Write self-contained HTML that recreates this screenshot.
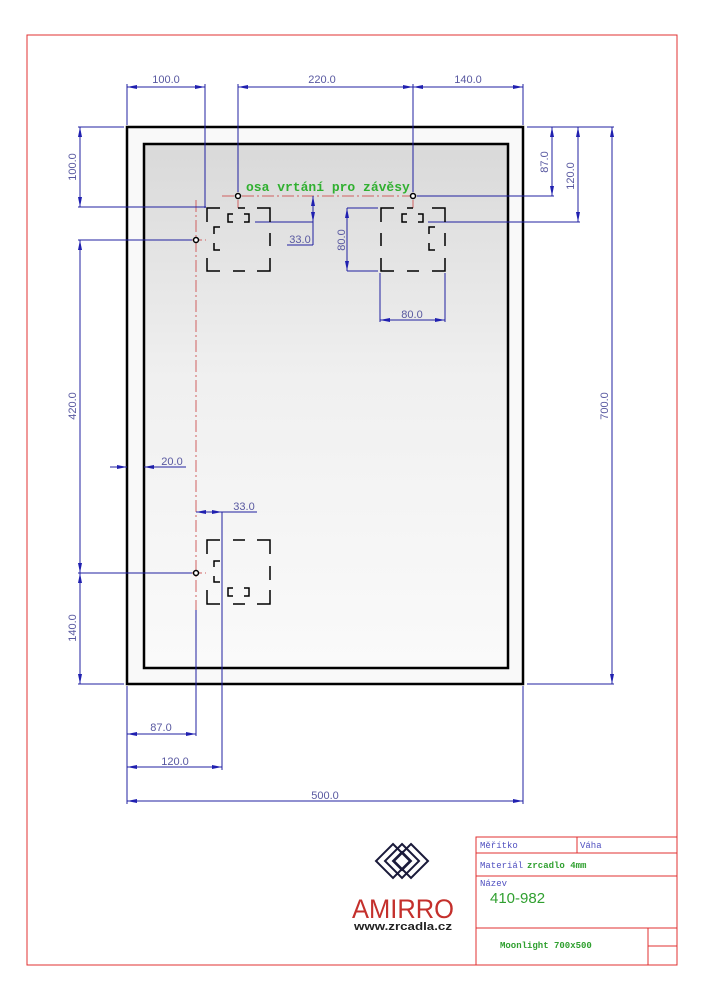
<!DOCTYPE html>
<html><head><meta charset="utf-8"><style>
html,body{margin:0;padding:0;background:#fff;}
svg{display:block;}
.d{font-family:"Liberation Sans",sans-serif;font-size:11px;fill:#5858a0;}
.t{font-family:"Liberation Mono",monospace;fill:#c03030;}
</style></head><body>
<svg width="705" height="1000" viewBox="0 0 705 1000" xmlns="http://www.w3.org/2000/svg">
<defs>
<linearGradient id="g" x1="0" y1="0" x2="0" y2="1">
<stop offset="0" stop-color="#d9d9d9"/><stop offset="0.45" stop-color="#f0f0f0"/><stop offset="1" stop-color="#fafafa"/>
</linearGradient>
<marker id="a" viewBox="0 0 10 6" refX="10" refY="3" markerWidth="10" markerHeight="6" orient="auto-start-reverse" markerUnits="userSpaceOnUse"><path d="M0,1 L10,3 L0,5z" fill="#2020b0"/></marker>
</defs>
<rect x="27" y="35" width="650" height="930" fill="none" stroke="#e03030" stroke-width="1"/>
<!-- mirror -->
<rect x="127" y="127" width="396" height="557" fill="#f9f9f9" stroke="#000" stroke-width="2.5"/>
<rect x="144" y="144" width="364" height="524" fill="url(#g)" stroke="#000" stroke-width="2.5"/>
<!-- center lines -->
<g stroke="#d06060" stroke-width="1" stroke-dasharray="12,3,2,3" fill="none">
<line x1="222" y1="196" x2="450" y2="196"/>
<line x1="196" y1="200" x2="196" y2="610"/>
<line x1="238" y1="180" x2="238" y2="208"/>
<line x1="413" y1="180" x2="413" y2="208"/>
<line x1="170" y1="240" x2="206" y2="240"/>
<line x1="170" y1="573" x2="206" y2="573"/>
</g>
<!-- blue dimension lines -->
<g stroke="#2020a0" stroke-width="1" fill="none">
<!-- top -->
<line x1="127" y1="87" x2="205" y2="87" marker-start="url(#a)" marker-end="url(#a)"/>
<line x1="238" y1="87" x2="413" y2="87" marker-start="url(#a)" marker-end="url(#a)"/>
<line x1="413" y1="87" x2="523" y2="87" marker-start="url(#a)" marker-end="url(#a)"/>
<line x1="127" y1="84" x2="127" y2="125"/>
<line x1="205" y1="84" x2="205" y2="208"/>
<line x1="238" y1="84" x2="238" y2="192"/>
<line x1="413" y1="84" x2="413" y2="192"/>
<line x1="523" y1="84" x2="523" y2="125"/>
<!-- left -->
<line x1="80" y1="127" x2="80" y2="207" marker-start="url(#a)" marker-end="url(#a)"/>
<line x1="78" y1="127" x2="124" y2="127"/>
<line x1="78" y1="207" x2="206" y2="207"/>
<line x1="80" y1="240" x2="80" y2="573" marker-start="url(#a)" marker-end="url(#a)"/>
<line x1="80" y1="573" x2="80" y2="684" marker-start="url(#a)" marker-end="url(#a)"/>
<line x1="78" y1="240" x2="192" y2="240"/>
<line x1="78" y1="573" x2="192" y2="573"/>
<line x1="78" y1="684" x2="124" y2="684"/>
<!-- right -->
<line x1="552" y1="127" x2="552" y2="196" marker-start="url(#a)" marker-end="url(#a)"/>
<line x1="578" y1="127" x2="578" y2="222" marker-start="url(#a)" marker-end="url(#a)"/>
<line x1="612" y1="127" x2="612" y2="684" marker-start="url(#a)" marker-end="url(#a)"/>
<line x1="527" y1="127" x2="614" y2="127"/>
<line x1="417" y1="196" x2="554" y2="196"/>
<line x1="428" y1="222" x2="580" y2="222"/>
<line x1="527" y1="684" x2="614" y2="684"/>
<!-- 33 top -->
<line x1="313" y1="196" x2="313" y2="222" marker-start="url(#a)" marker-end="url(#a)"/>
<line x1="255" y1="222" x2="313" y2="222"/>
<line x1="313" y1="222" x2="313" y2="245"/>
<line x1="287" y1="245" x2="313" y2="245"/>
<!-- 80 -->
<line x1="347" y1="208" x2="347" y2="271" marker-start="url(#a)" marker-end="url(#a)"/>
<line x1="347" y1="208" x2="378" y2="208"/>
<line x1="347" y1="271" x2="378" y2="271"/>
<line x1="380" y1="320" x2="445" y2="320" marker-start="url(#a)" marker-end="url(#a)"/>
<line x1="380" y1="273" x2="380" y2="322"/>
<line x1="445" y1="273" x2="445" y2="322"/>
<!-- 20 -->
<line x1="110" y1="467" x2="127" y2="467" marker-end="url(#a)"/>
<line x1="161" y1="467" x2="144" y2="467" marker-end="url(#a)"/>
<line x1="144" y1="467" x2="186" y2="467"/>
<!-- 33 bottom -->
<line x1="196" y1="512" x2="222" y2="512" marker-start="url(#a)" marker-end="url(#a)"/>
<line x1="222" y1="512" x2="257" y2="512"/>
<line x1="222" y1="512" x2="222" y2="770"/>
<line x1="196" y1="610" x2="196" y2="736"/>
<!-- bottom -->
<line x1="127" y1="734" x2="196" y2="734" marker-start="url(#a)" marker-end="url(#a)"/>
<line x1="127" y1="767" x2="222" y2="767" marker-start="url(#a)" marker-end="url(#a)"/>
<line x1="127" y1="801" x2="523" y2="801" marker-start="url(#a)" marker-end="url(#a)"/>
<line x1="127" y1="686" x2="127" y2="804"/>
<line x1="523" y1="686" x2="523" y2="804"/>
</g>
<!-- dimension texts -->
<g class="d">
<text x="166" y="83" text-anchor="middle">100.0</text>
<text x="322" y="83" text-anchor="middle">220.0</text>
<text x="468" y="83" text-anchor="middle">140.0</text>
<text transform="translate(76,167) rotate(-90)" text-anchor="middle">100.0</text>
<text transform="translate(76,406) rotate(-90)" text-anchor="middle">420.0</text>
<text transform="translate(76,628) rotate(-90)" text-anchor="middle">140.0</text>
<text transform="translate(548,162) rotate(-90)" text-anchor="middle">87.0</text>
<text transform="translate(574,176) rotate(-90)" text-anchor="middle">120.0</text>
<text transform="translate(608,406) rotate(-90)" text-anchor="middle">700.0</text>
<text x="300" y="243" text-anchor="middle">33.0</text>
<text transform="translate(345,240) rotate(-90)" text-anchor="middle">80.0</text>
<text x="412" y="318" text-anchor="middle">80.0</text>
<text x="172" y="465" text-anchor="middle">20.0</text>
<text x="244" y="510" text-anchor="middle">33.0</text>
<text x="161" y="731" text-anchor="middle">87.0</text>
<text x="175" y="765" text-anchor="middle">120.0</text>
<text x="325" y="799" text-anchor="middle">500.0</text>
</g>
<!-- bracket squares -->
<g stroke="#000" stroke-width="1.5" fill="none">
<!-- TL -->
<path d="M207,222V208H220 M238,208H245 M257,208H270V222 M270,233V246 M207,258V271H220 M233,271H245 M257,271H270V258"/>
<path d="M233,222H228V214H233 M244,214H249V222H244 M214,234V227H220 M214,243V250H220"/>
<!-- TR -->
<path d="M381,222V208H394 M407,208H413 M432,208H445V222 M445,233V246 M381,233V246 M381,258V271H394 M407,271H419 M432,271H445V258"/>
<path d="M407,222H402V214H407 M418,214H423V222H418 M429,234V227H435 M429,243V250H435"/>
<!-- BL -->
<path d="M207,554V540H220 M233,540H245 M257,540H270V554 M270,566V580 M207,590V604H220 M233,604H245 M257,604H270V590"/>
<path d="M214,567V561H220 M214,576V582H220 M233,596H228V588H233 M244,588H249V596H244"/>
</g>
<g stroke="#000" stroke-width="1.5" fill="#fff">
<circle cx="238" cy="196" r="2.5"/><circle cx="413" cy="196" r="2.5"/>
<circle cx="196" cy="240" r="2.5"/><circle cx="196" cy="573" r="2.5"/>
</g>
<text x="246" y="191" font-family="Liberation Mono,monospace" font-weight="bold" font-size="13" fill="#30b030">osa vrtání pro závěsy</text>
<!-- logo -->
<g stroke="#1a1a3a" stroke-width="2" fill="none">
<path d="M393,844 L410,861 L393,878 L376,861Z"/>
<path d="M402,844 L419,861 L402,878 L385,861Z"/>
<path d="M411,844 L428,861 L411,878 L394,861Z"/>
<path d="M402,852 L411,861 L402,870 L393,861Z"/>
</g>
<text x="403" y="918" text-anchor="middle" font-family="Liberation Sans,sans-serif" font-size="27" fill="#c4302c" textLength="102" lengthAdjust="spacingAndGlyphs">AMIRRO</text>
<text x="403" y="930" text-anchor="middle" font-family="Liberation Sans,sans-serif" font-weight="bold" font-size="11" fill="#222" textLength="98" lengthAdjust="spacingAndGlyphs">www.zrcadla.cz</text>
<!-- title block -->
<g stroke="#e03030" stroke-width="1" fill="none">
<rect x="476" y="837" width="201" height="128"/>
<line x1="476" y1="853" x2="677" y2="853"/>
<line x1="577" y1="837" x2="577" y2="853"/>
<line x1="476" y1="876" x2="677" y2="876"/>
<line x1="476" y1="928" x2="677" y2="928"/>
<line x1="648" y1="928" x2="648" y2="965"/>
<line x1="648" y1="946" x2="677" y2="946"/>
</g>
<g font-family="Liberation Mono,monospace" font-size="9" fill="#5050c0">
<text x="480" y="848">Měřítko</text>
<text x="580" y="848">Váha</text>
<text x="480" y="868">Materiál</text>
<text x="480" y="886">Název</text>
</g>
<text x="527" y="868" font-family="Liberation Mono,monospace" font-weight="bold" font-size="9" fill="#30a030">zrcadlo 4mm</text>
<text x="490" y="903" font-family="Liberation Sans,sans-serif" font-size="15" fill="#30a030">410-982</text>
<text x="500" y="948" font-family="Liberation Mono,monospace" font-weight="bold" font-size="9" fill="#30a030">Moonlight 700x500</text>
</svg>
</body></html>
